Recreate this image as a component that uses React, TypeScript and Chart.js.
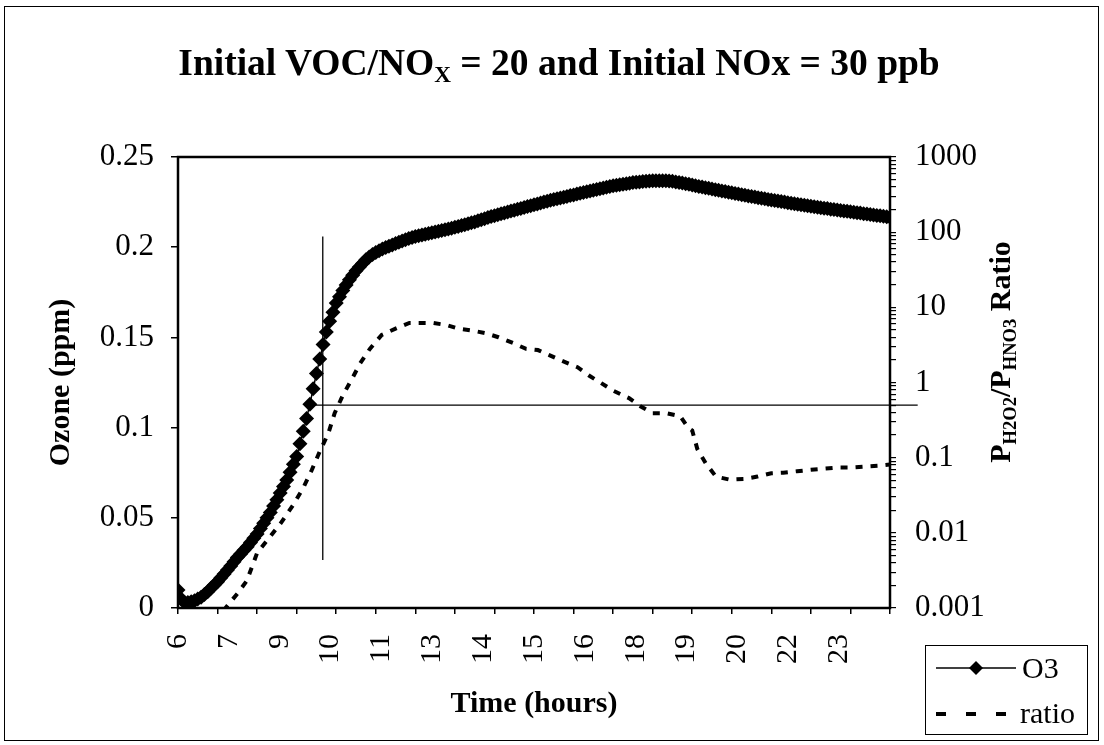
import React, { useEffect, useRef } from 'react';
import { Chart, registerables } from 'chart.js';

Chart.register(...registerables);

// ---- data ----
const startHour = 6;
const stepMinutes = 5;
// Ozone (ppm), one reading every 5 minutes from 06:00 to 24:00 (12 per row = 1 hour)
const ozonePpm = [
  0.010, 0.005, 0.003, 0.003, 0.0035, 0.004, 0.005, 0.006, 0.0075, 0.009, 0.011, 0.0128,
  0.0145, 0.0167, 0.0188, 0.021, 0.0233, 0.0257, 0.028, 0.030, 0.032, 0.034, 0.0363, 0.0387,
  0.041, 0.044, 0.047, 0.050, 0.053, 0.0565, 0.060, 0.0637, 0.0673, 0.071, 0.0753, 0.0797,
  0.084, 0.091, 0.098, 0.105, 0.113, 0.1215, 0.130, 0.138, 0.146, 0.153, 0.159, 0.164,
  0.169, 0.1725, 0.176, 0.179, 0.182, 0.1845, 0.187, 0.189, 0.191, 0.193, 0.1945, 0.196,
  0.197, 0.198, 0.199, 0.1998, 0.2005, 0.2012, 0.202, 0.2027, 0.2034, 0.2041, 0.2048, 0.2054,
  0.206, 0.2064, 0.2068, 0.2072, 0.2076, 0.208, 0.2084, 0.2088, 0.2093, 0.2097, 0.2101, 0.2105,
  0.211, 0.2115, 0.212, 0.2125, 0.213, 0.2135, 0.214, 0.2146, 0.2152, 0.2158, 0.2164, 0.217,
  0.2175, 0.218, 0.2185, 0.219, 0.2195, 0.220, 0.2205, 0.221, 0.2215, 0.222, 0.2225, 0.223,
  0.2235, 0.224, 0.2245, 0.225, 0.2255, 0.226, 0.2264, 0.2268, 0.2273, 0.2277, 0.2281, 0.2286,
  0.229, 0.2295, 0.2299, 0.2303, 0.2308, 0.2312, 0.2316, 0.232, 0.2324, 0.2328, 0.2332, 0.2336,
  0.234, 0.2343, 0.2346, 0.2349, 0.2352, 0.2355, 0.2358, 0.236, 0.2362, 0.2364, 0.2366, 0.2367,
  0.2368, 0.2369, 0.2369, 0.2369, 0.2368, 0.2367, 0.2365, 0.2362, 0.2359, 0.2356, 0.2352, 0.2349,
  0.2345, 0.2341, 0.2337, 0.2334, 0.233, 0.2327, 0.2323, 0.2319, 0.2316, 0.2312, 0.2309, 0.2305,
  0.2302, 0.2298, 0.2295, 0.2291, 0.2288, 0.2284, 0.2281, 0.2278, 0.2274, 0.2271, 0.2268, 0.2265,
  0.2262, 0.2259, 0.2256, 0.2253, 0.225, 0.2247, 0.2244, 0.2241, 0.2238, 0.2235, 0.2232, 0.223,
  0.2227, 0.2224, 0.2221, 0.2219, 0.2216, 0.2214, 0.2211, 0.2209, 0.2206, 0.2204, 0.2201, 0.2199,
  0.2196, 0.2194, 0.2191, 0.2189, 0.2186, 0.2184, 0.2181, 0.2179, 0.2176, 0.2174, 0.2171, 0.2169,
  0.2166,
];

const ratioHours = [
  7.0, 7.2, 7.5, 7.74, 8.0, 8.3, 8.6, 8.9, 9.16, 9.38, 9.59, 9.8, 9.96,
  10.17, 10.4, 10.6, 10.85, 11.15, 11.5, 11.85, 12.2, 12.45, 12.8, 13.1,
  13.45, 13.8, 14.1, 14.5, 14.8, 15.1, 15.4, 15.7, 16.1, 16.4, 16.7, 17.0,
  17.4, 17.7, 18.0, 18.35, 18.7, 18.9, 19.0, 19.13, 19.35, 19.6, 19.95,
  20.3, 20.65, 21.0, 21.3, 21.65, 22.0, 22.3, 22.7, 23.0, 23.35, 23.7, 24.0,
];
const ratioValues = [
  0.0006, 0.001, 0.00155, 0.0023, 0.0054, 0.0085, 0.0135, 0.023, 0.039, 0.068, 0.123, 0.21, 0.39,
  0.68, 1.12, 1.78, 2.8, 4.3, 5.2, 6.2, 6.2, 6.2, 5.8, 5.2,
  4.9, 4.5, 4.0, 3.3, 2.8, 2.7, 2.3, 1.95, 1.6, 1.23, 0.98, 0.78,
  0.62, 0.48, 0.39, 0.39, 0.355, 0.25, 0.23, 0.13, 0.083, 0.056, 0.051,
  0.052, 0.056, 0.062, 0.063, 0.066, 0.069, 0.071, 0.074, 0.074, 0.076, 0.078, 0.081,
];

const xMin = 6;
const xMax = 24;
const xLabelTexts = ['6', '7', '9', '10', '11', '13', '14', '15', '16', '18', '19', '20', '22', '23'];
const leftTickLabels = ['0', '0.05', '0.1', '0.15', '0.2', '0.25'];
const rightTickValues = [0.001, 0.01, 0.1, 1, 10, 100, 1000];
const rightTickLabels = ['0.001', '0.01', '0.1', '1', '10', '100', '1000'];

// reference lines
const thresholdRatio = [0.5, 0.5];
const thresholdHours = [9.33, 24.7];
const markerHours = [9.66, 9.66];
const markerOzone = [0.0266, 0.206];

const serif = '"Liberation Serif", "Times New Roman", serif';

export default function App() {
  const canvasRef = useRef<HTMLCanvasElement>(null);

  useEffect(() => {
    document.body.style.margin = '0';
    const canvas = canvasRef.current;
    if (!canvas) return;
    Chart.defaults.font.family = serif;
    Chart.defaults.color = '#000';

    const o3 = ozonePpm.map((v, i) => ({ x: startHour + (i * stepMinutes) / 60, y: v }));
    const ratio = ratioHours.map((h, i) => ({ x: h, y: ratioValues[i] }));
    const hline = thresholdHours.map((h, i) => ({ x: h, y: thresholdRatio[i] }));
    const vline = markerHours.map((h, i) => ({ x: h, y: markerOzone[i] }));

    const framePlugin = {
      id: 'frame',
      afterDraw(chart: any) {
        const { ctx, chartArea: a } = chart;
        ctx.save();
        ctx.strokeStyle = '#000';
        ctx.lineWidth = 2.5;
        ctx.strokeRect(a.left, a.top, a.right - a.left, a.bottom - a.top);
        ctx.restore();
      },
    };

    const chart = new Chart(canvas, {
      type: 'line',
      data: {
        datasets: [
          {
            label: 'O3',
            data: o3,
            xAxisID: 'xt',
            yAxisID: 'y',
            borderColor: '#000',
            borderWidth: 1.5,
            pointStyle: 'rectRot',
            pointRadius: 7.5,
            pointBackgroundColor: '#000',
            pointBorderColor: '#000',
            pointBorderWidth: 0,
          },
          {
            label: 'ratio',
            data: ratio,
            xAxisID: 'xt',
            yAxisID: 'y2',
            borderColor: '#000',
            borderWidth: 4,
            borderDash: [7, 8],
            pointRadius: 0,
          },
          {
            label: 'threshold',
            data: hline,
            xAxisID: 'xt',
            yAxisID: 'y2',
            borderColor: '#000',
            borderWidth: 1.3,
            pointRadius: 0,
            clip: false,
          },
          {
            label: 'marker',
            data: vline,
            xAxisID: 'xt',
            yAxisID: 'y',
            borderColor: '#000',
            borderWidth: 1.3,
            pointRadius: 0,
          },
        ],
      },
      options: {
        responsive: false,
        maintainAspectRatio: false,
        animation: false,
        events: [],
        layout: { padding: { top: 157, left: 0, right: 0, bottom: 0 } },
        plugins: {
          legend: { display: false },
          tooltip: { enabled: false },
          title: { display: false },
        },
        scales: {
          xt: {
            type: 'linear',
            position: 'bottom',
            min: xMin,
            max: xMax,
            weight: 0,
            ticks: { display: false, stepSize: 1 },
            grid: { drawOnChartArea: false, drawTicks: true, tickLength: 6, color: '#000', lineWidth: 1.5 },
            border: { display: false },
            afterFit: (s: any) => { s.height = 6; },
          },
          xl: {
            type: 'linear',
            position: 'bottom',
            min: xMin,
            max: xMax,
            weight: 1,
            afterBuildTicks: (s: any) => {
              s.ticks = xLabelTexts.map((_, i) => ({ value: xMin + (i * (xMax - xMin)) / xLabelTexts.length }));
            },
            ticks: {
              autoSkip: false,
              maxRotation: 90,
              minRotation: 90,
              padding: 12,
              font: { size: 30 },
              callback: (_v: any, i: number) => xLabelTexts[i],
            },
            grid: { display: false },
            border: { display: false },
            title: {
              display: true,
              text: 'Time (hours)',
              font: { size: 30, weight: 'bold' },
              padding: { top: 0, bottom: 23 },
            },
            afterFit: (s: any) => { s.height = 131; },
          },
          y: {
            type: 'linear',
            position: 'left',
            min: 0,
            max: 0.25,
            ticks: {
              stepSize: 0.05,
              padding: 17,
              font: { size: 31 },
              callback: (_v: any, i: number) => leftTickLabels[i],
            },
            grid: { drawOnChartArea: false, tickLength: 7, color: '#000', lineWidth: 1.5 },
            border: { display: false },
            title: {
              display: true,
              text: 'Ozone (ppm)',
              font: { size: 30, weight: 'bold' },
              padding: { top: 43, bottom: 0 },
            },
            afterFit: (s: any) => { s.width = 178; },
          },
          y2: {
            type: 'logarithmic',
            position: 'right',
            min: 0.001,
            max: 1000,
            afterBuildTicks: (s: any) => {
              const t: { value: number }[] = [];
              for (let k = 0; k < rightTickValues.length - 1; k++) {
                for (let m = 1; m <= 9; m++) t.push({ value: rightTickValues[k] * m });
              }
              t.push({ value: rightTickValues[rightTickValues.length - 1] });
              s.ticks = t;
            },
            ticks: {
              autoSkip: false,
              padding: 19,
              font: { size: 31 },
              callback: (v: any) => {
                const idx = rightTickValues.findIndex((r) => Math.abs(r - v) / r < 1e-6);
                return idx >= 0 ? rightTickLabels[idx] : '';
              },
            },
            grid: { drawOnChartArea: false, tickLength: 6, color: '#000', lineWidth: 1.2 },
            border: { display: false },
            afterFit: (s: any) => { s.width = 214; },
          },
        },
      },
      plugins: [framePlugin],
    } as any);

    return () => chart.destroy();
  }, []);

  const subStyle: React.CSSProperties = { fontSize: '0.62em', verticalAlign: '-0.28em' };

  return (
    <div style={{ position: 'absolute', left: 0, top: 0, width: 1104, height: 745, background: '#fff', fontFamily: serif, color: '#000' }}>
      <canvas ref={canvasRef} width={1104} height={745} style={{ position: 'absolute', left: 0, top: 0, width: 1104, height: 745 }} />
      {/* outer frame */}
      <div style={{ position: 'absolute', left: 4, top: 6, width: 1095, height: 735, border: '1px solid #000', boxSizing: 'border-box', pointerEvents: 'none' }} />
      {/* title */}
      <div style={{ position: 'absolute', left: 0, top: 44, width: 1118, textAlign: 'center', fontSize: 37.5, lineHeight: '38px', fontWeight: 'bold', whiteSpace: 'nowrap' }}>
        Initial VOC/NO<span style={subStyle}>X</span> = 20 and Initial NOx = 30 ppb
      </div>
      {/* right axis title */}
      <div style={{ position: 'absolute', left: 1005, top: 352, transform: 'translate(-50%, -50%) rotate(-90deg)', fontSize: 30, lineHeight: '30px', fontWeight: 'bold', whiteSpace: 'nowrap' }}>
        P<span style={subStyle}>H2O2</span>/P<span style={subStyle}>HNO3</span> Ratio
      </div>
      {/* legend */}
      <div style={{ position: 'absolute', left: 925, top: 645, width: 163, height: 90, border: '1px solid #000', boxSizing: 'border-box', background: '#fff' }}>
        <svg width={92} height={88} style={{ position: 'absolute', left: 0, top: 0 }}>
          <line x1={10} y1={22} x2={90} y2={22} stroke="#000" strokeWidth={1.5} />
          <polygon points="50,15 57,22 50,29 43,22" fill="#000" />
          <rect x={10} y={66} width={10} height={4} fill="#000" />
          <rect x={40} y={66} width={10} height={4} fill="#000" />
          <rect x={70} y={66} width={10} height={4} fill="#000" />
        </svg>
        <div style={{ position: 'absolute', left: 96, top: 7, fontSize: 30, lineHeight: '30px' }}>O3</div>
        <div style={{ position: 'absolute', left: 94, top: 52, fontSize: 30, lineHeight: '30px' }}>ratio</div>
      </div>
    </div>
  );
}
